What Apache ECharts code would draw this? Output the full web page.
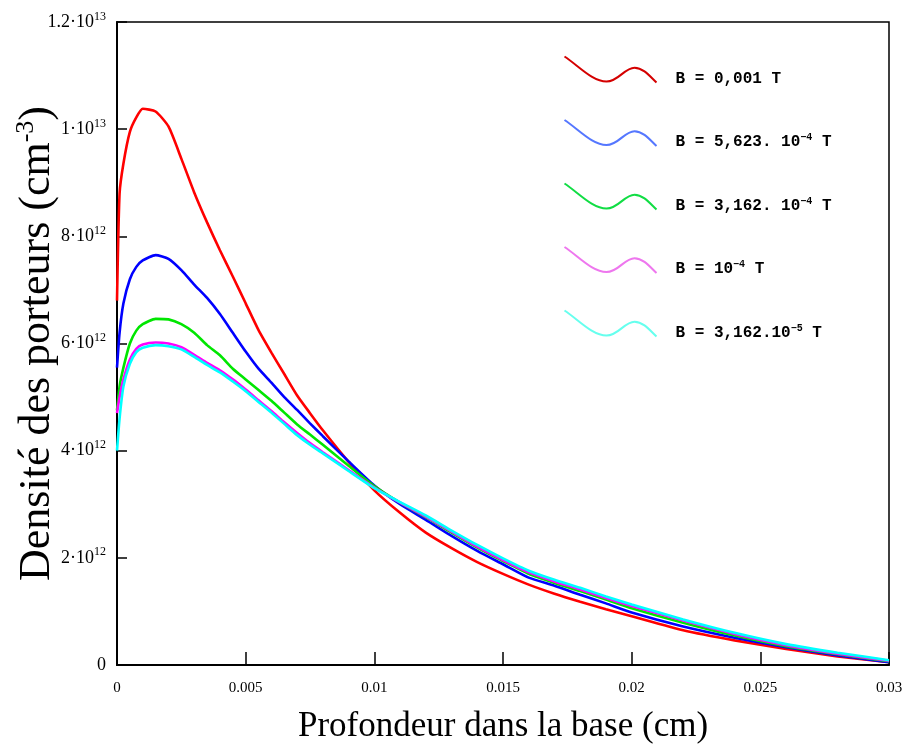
<!DOCTYPE html>
<html>
<head>
<meta charset="utf-8">
<script src="https://cdn.jsdelivr.net/npm/echarts@6/dist/echarts.min.js"></script>
<style>
  html, body { margin: 0; padding: 0; background: #fff; }
  #chart { width: 908px; height: 751px; }
</style>
</head>
<body>
<div id="chart"></div>
<script>
// profondeur (cm)
var xDepth = [0, 0.0001, 0.00025, 0.0005, 0.00075, 0.001, 0.0015, 0.002, 0.0025, 0.003, 0.0035, 0.004, 0.0045, 0.005, 0.0055, 0.006, 0.0065, 0.007, 0.0075, 0.008, 0.009, 0.01, 0.011, 0.012, 0.013, 0.014, 0.015, 0.016, 0.017, 0.018, 0.019, 0.02, 0.022, 0.024, 0.026, 0.028, 0.03]

// densité des porteurs, en unités de 10^12 cm^-3
var densB1 = [6.8, 8.8, 9.36, 9.95, 10.22, 10.38, 10.33, 10.05, 9.45, 8.82, 8.26, 7.74, 7.25, 6.75, 6.25, 5.83, 5.43, 5.03, 4.70, 4.38, 3.79, 3.26, 2.84, 2.47, 2.18, 1.92, 1.70, 1.50, 1.33, 1.18, 1.04, 0.91, 0.65, 0.46, 0.30, 0.16, 0.05]
var densB2 = [5.55, 6.2, 6.75, 7.2, 7.43, 7.55, 7.65, 7.58, 7.37, 7.1, 6.85, 6.55, 6.2, 5.85, 5.53, 5.27, 5.0, 4.76, 4.51, 4.27, 3.8, 3.35, 3.0, 2.71, 2.41, 2.13, 1.88, 1.63, 1.48, 1.31, 1.15, 0.98, 0.72, 0.51, 0.33, 0.18, 0.05]
var densB3 = [4.75, 5.2, 5.55, 6.0, 6.24, 6.36, 6.46, 6.45, 6.36, 6.2, 5.97, 5.78, 5.53, 5.33, 5.13, 4.93, 4.71, 4.49, 4.30, 4.11, 3.72, 3.34, 3.03, 2.76, 2.47, 2.19, 1.94, 1.70, 1.53, 1.38, 1.22, 1.06, 0.79, 0.55, 0.35, 0.2, 0.07]
var densB4 = [4.7, 5.0, 5.33, 5.7, 5.9, 5.98, 6.02, 6.0, 5.93, 5.79, 5.64, 5.5, 5.33, 5.14, 4.94, 4.74, 4.53, 4.33, 4.14, 3.97, 3.64, 3.31, 3.03, 2.77, 2.49, 2.21, 1.96, 1.73, 1.56, 1.41, 1.25, 1.10, 0.83, 0.58, 0.37, 0.21, 0.08]
var densB5 = [4.0, 4.6, 5.2, 5.62, 5.84, 5.92, 5.97, 5.95, 5.89, 5.75, 5.6, 5.46, 5.29, 5.11, 4.91, 4.71, 4.5, 4.29, 4.11, 3.95, 3.62, 3.3, 3.04, 2.79, 2.51, 2.24, 1.99, 1.76, 1.59, 1.44, 1.28, 1.13, 0.85, 0.6, 0.39, 0.23, 0.09]

var seriesNames = ['B1', 'B2', 'B3', 'B4', 'B5']
// texte de légende : [base, exposant, suite]
var legendTexts = [
  ['B = 0,001 T', '', ''],
  ['B = 5,623. 10', '−4', ' T'],
  ['B = 3,162. 10', '−4', ' T'],
  ['B = 10', '−4', ' T'],
  ['B = 3,162.10', '−5', ' T']
]
var xTickLabels = ['0', '0.005', '0.01', '0.015', '0.02', '0.025', '0.03']
// graduations y : [mantisse, exposant]
var yTickLabels = [['0', ''], ['2·10', '12'], ['4·10', '12'], ['6·10', '12'], ['8·10', '12'], ['1·10', '13'], ['1.2·10', '13']]

var lineColors = ['#ff0000', '#0000ff', '#00e600', '#ff00ff', '#00ffff']
var legendColors = ['#d40000', '#5577ff', '#11dd44', '#ee77ee', '#66ffee']
var allDens = [densB1, densB2, densB3, densB4, densB5]

var wave = 'path://M0 0 C14 10 28 27 42 27 C54 27 60 12 70 12 C79 12 86 22 92 28'

var myChart = echarts.init(document.getElementById('chart'))

var series = seriesNames.map(function (name, i) {
  return {
    name: name,
    type: 'line',
    showSymbol: false,
    smooth: 0.2,
    lineStyle: { width: 2.6, color: lineColors[i] },
    itemStyle: { color: lineColors[i] },
    data: xDepth.map(function (x, j) { return [x, allDens[i][j]] })
  }
})

var option = {
  animation: false,
  grid: {
    left: 117,
    right: 19,
    top: 22,
    bottom: 86,
    outerBoundsMode: 'none',
    show: true,
    borderColor: '#000',
    borderWidth: 1.5
  },
  legend: {
    orient: 'vertical',
    left: 562,
    top: 54,
    padding: 0,
    itemWidth: 92,
    itemHeight: 26,
    itemGap: 31,
    symbolKeepAspect: false,
    selectedMode: false,
    data: seriesNames.map(function (name, i) {
      return {
        name: name,
        icon: wave,
        itemStyle: { color: 'none', borderColor: legendColors[i], borderWidth: 2 }
      }
    }),
    formatter: function (name) {
      var t = legendTexts[seriesNames.indexOf(name)]
      var s = '{b|' + t[0] + '}'
      if (t[1]) s += '{s|' + t[1] + '}'
      if (t[2]) s += '{b|' + t[2] + '}'
      return s
    },
    textStyle: {
      padding: [18, 0, 0, 14],
      rich: {
        b: { fontFamily: 'Liberation Mono', fontWeight: 'bold', fontSize: 16, color: '#000' },
        s: { fontFamily: 'Liberation Mono', fontWeight: 'bold', fontSize: 10, color: '#000', padding: [0, 0, 9, 0] }
      }
    }
  },
  xAxis: {
    type: 'value',
    min: 0,
    max: 0.03,
    interval: 0.005,
    name: 'Profondeur dans la base (cm)',
    nameLocation: 'middle',
    nameGap: 44,
    nameMoveOverlap: false,
    nameTextStyle: { fontFamily: 'Liberation Serif', fontSize: 35, color: '#000' },
    axisLine: { onZero: false, lineStyle: { color: '#000', width: 2 } },
    axisTick: { inside: true, length: 13, lineStyle: { color: '#000', width: 1.5 } },
    splitLine: { show: false },
    axisLabel: {
      margin: 16,
      fontFamily: 'Liberation Serif',
      fontSize: 15,
      color: '#000',
      formatter: function (v) {
        return xTickLabels[Math.round(v / 0.005)]
      }
    }
  },
  yAxis: {
    type: 'value',
    min: 0,
    max: 12,
    interval: 2,
    name: '{a|Densité des porteurs (cm}{s|-3}{a|)}',
    nameLocation: 'middle',
    nameGap: 56,
    nameMoveOverlap: false,
    nameTextStyle: {
      rich: {
        a: { fontFamily: 'Liberation Serif', fontSize: 44, color: '#000' },
        s: { fontFamily: 'Liberation Serif', fontSize: 26, color: '#000', padding: [0, 0, 22, 0] }
      }
    },
    axisLine: { onZero: false, lineStyle: { color: '#000', width: 2 } },
    axisTick: { inside: true, length: 10, lineStyle: { color: '#000', width: 1.5 } },
    splitLine: { show: false },
    axisLabel: {
      margin: 11,
      formatter: function (v) {
        var t = yTickLabels[Math.round(v / 2)]
        return t[1] ? '{m|' + t[0] + '}{e|' + t[1] + '}' : '{m|' + t[0] + '}'
      },
      rich: {
        m: { fontFamily: 'Liberation Serif', fontSize: 18, color: '#000' },
        e: { fontFamily: 'Liberation Serif', fontSize: 12, color: '#000', padding: [0, 0, 11, 0] }
      }
    }
  },
  series: series
}

myChart.setOption(option, true)
</script>
</body>
</html>
